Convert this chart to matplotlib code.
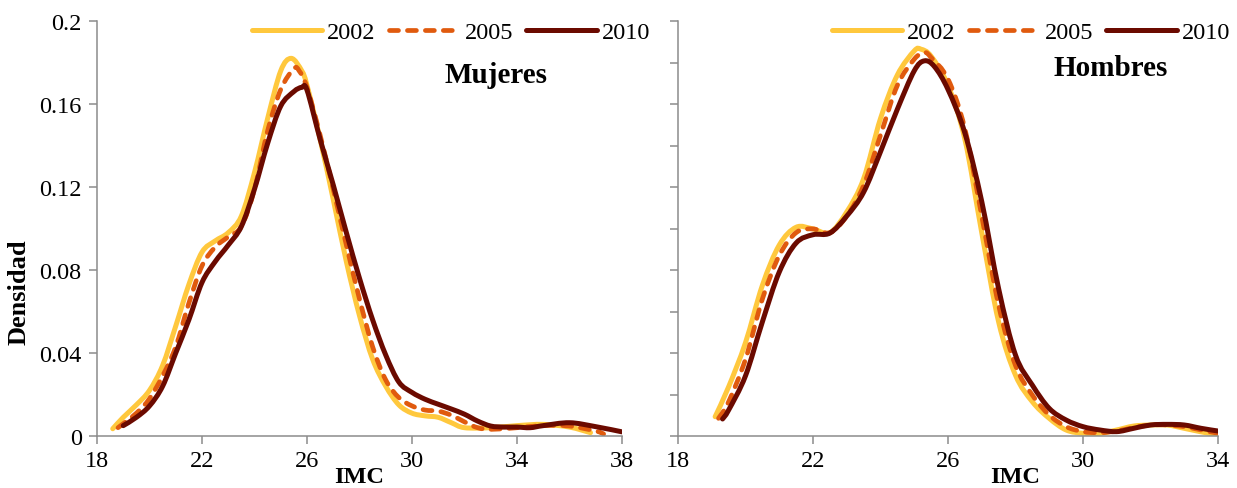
import matplotlib
matplotlib.use("Agg")
import matplotlib.pyplot as plt
from matplotlib.path import Path
from matplotlib.patches import PathPatch
from matplotlib.lines import Line2D

plt.rcParams['font.family'] = ['Liberation Serif', 'DejaVu Serif']

# Densidad del IMC por año - Mujeres
imc_m_2002 = [18.6, 19.0, 19.5, 20.0, 20.5, 21.0, 21.5, 22.0, 22.5, 23.0, 23.5, 24.0, 24.5, 25.0, 25.4,
              25.8, 26.0, 26.5, 27.0, 27.5, 28.0, 28.5, 29.0, 29.5, 30.0, 30.5, 31.0, 31.5, 32.0, 33.0,
              34.0, 35.0, 36.0, 36.8]
dens_m_2002 = [0.0035, 0.009, 0.015, 0.022, 0.034, 0.053, 0.073, 0.0886, 0.094, 0.098, 0.106, 0.127,
               0.153, 0.176, 0.182, 0.176, 0.169, 0.143, 0.114, 0.084, 0.058, 0.037, 0.024, 0.015,
               0.011, 0.0097, 0.009, 0.0064, 0.004, 0.004, 0.005, 0.0056, 0.0043, 0.0016]

imc_m_2005 = [18.8, 19.5, 20.0, 20.5, 21.0, 21.5, 22.0, 22.5, 23.0, 23.5, 24.0, 24.5, 25.0, 25.5, 25.7,
              26.0, 26.5, 27.0, 27.5, 28.0, 28.5, 29.0, 29.5, 30.0, 30.5, 31.0, 31.5, 32.0, 32.5, 33.0,
              34.0, 35.0, 36.0, 37.0, 37.3]
dens_m_2005 = [0.004, 0.011, 0.018, 0.029, 0.043, 0.064, 0.082, 0.091, 0.096, 0.101, 0.119, 0.147,
               0.167, 0.177, 0.176, 0.168, 0.145, 0.119, 0.092, 0.066, 0.043, 0.027, 0.0185, 0.0145,
               0.0125, 0.012, 0.01, 0.0068, 0.004, 0.0032, 0.004, 0.005, 0.0048, 0.0024, 0.001]

imc_m_2010 = [19.0, 19.5, 20.0, 20.5, 21.0, 21.5, 22.0, 22.5, 23.0, 23.5, 24.0, 24.5, 25.0, 25.5, 25.8,
              26.0, 26.5, 27.0, 27.5, 28.0, 28.5, 29.0, 29.5, 30.0, 30.5, 31.0, 31.5, 32.0, 32.5, 33.0,
              33.5, 34.0, 34.5, 35.0, 36.0, 37.0, 38.0]
dens_m_2010 = [0.005, 0.009, 0.0145, 0.024, 0.040, 0.056, 0.074, 0.084, 0.092, 0.101, 0.119, 0.141,
               0.159, 0.166, 0.168, 0.1667, 0.143, 0.121, 0.098, 0.076, 0.056, 0.039, 0.026, 0.021,
               0.0177, 0.0153, 0.013, 0.0105, 0.0072, 0.0048, 0.0043, 0.0043, 0.004, 0.005, 0.0064,
               0.0045, 0.002]

# Densidad del IMC por año - Hombres
imc_h_2002 = [19.1, 19.5, 20.0, 20.5, 21.0, 21.5, 22.0, 22.5, 23.0, 23.5, 24.0, 24.5, 25.0, 25.2, 25.5,
              26.0, 26.5, 27.0, 27.5, 28.0, 28.5, 29.0, 29.5, 30.0, 30.5, 31.0, 31.5, 32.0, 32.5, 33.0,
              33.5, 34.0]
dens_h_2002 = [0.0093, 0.0237, 0.045, 0.0726, 0.092, 0.1006, 0.0998, 0.098, 0.108, 0.124, 0.153, 0.174,
               0.1856, 0.1864, 0.183, 0.169, 0.143, 0.098, 0.055, 0.0293, 0.0165, 0.0085, 0.0029,
               0.0013, 0.0013, 0.0029, 0.0048, 0.0053, 0.0053, 0.0037, 0.002, 0.0005]

imc_h_2005 = [19.2, 19.5, 20.0, 20.5, 21.0, 21.5, 22.0, 22.5, 23.0, 23.5, 24.0, 24.5, 25.0, 25.3, 25.5,
              26.0, 26.5, 27.0, 27.5, 28.0, 28.5, 29.0, 29.5, 30.0, 30.5, 31.0, 31.5, 32.0, 32.5, 33.0,
              33.5, 34.0]
dens_h_2005 = [0.0085, 0.0165, 0.037, 0.066, 0.087, 0.098, 0.0998, 0.098, 0.106, 0.1207, 0.145, 0.169,
               0.1816, 0.1848, 0.1824, 0.172, 0.148, 0.106, 0.063, 0.034, 0.0197, 0.0101, 0.0045,
               0.0021, 0.0016, 0.0024, 0.004, 0.0053, 0.0053, 0.0045, 0.0029, 0.0013]

imc_h_2010 = [19.32, 19.5, 20.0, 20.5, 21.0, 21.5, 22.0, 22.5, 23.0, 23.5, 24.0, 24.5, 25.0, 25.3, 25.6,
              26.0, 26.5, 27.0, 27.5, 28.0, 28.5, 29.0, 29.5, 30.0, 30.5, 31.0, 31.5, 32.0, 32.5, 33.0,
              33.5, 34.0]
dens_h_2010 = [0.0082, 0.0125, 0.029, 0.055, 0.079, 0.093, 0.097, 0.0978, 0.106, 0.1175, 0.137, 0.1575,
               0.176, 0.1808, 0.178, 0.167, 0.146, 0.113, 0.071, 0.039, 0.0245, 0.0133, 0.0077,
               0.0045, 0.0029, 0.0021, 0.0037, 0.0053, 0.0056, 0.0053, 0.0037, 0.0024]

years = ['2002', '2005', '2010']
colors = ['#FFC83D', '#E05A0E', '#6B0A00']
styles = ['-', (0, (1.9, 1.9)), '-']
widths = [3.6, 3.4, 3.6]

y_ticks_m = [0, 0.04, 0.08, 0.12, 0.16, 0.2]
y_labels_m = ['0', '0.04', '0.08', '0.12', '0.16', '0.2']
x_ticks_m = [18, 22, 26, 30, 34, 38]
x_ticks_h = [18, 22, 26, 30, 34]
y_ticks_h = [0, 0.02, 0.04, 0.06, 0.08, 0.10, 0.12, 0.14, 0.16, 0.18, 0.2]


def smooth_path(x, y):
    # línea suavizada tipo Excel: segmentos Bezier cúbicos que pasan por cada punto
    n = len(x)
    verts = [(x[0], y[0])]
    codes = [Path.MOVETO]
    for i in range(n - 1):
        x0, y0 = (x[i - 1], y[i - 1]) if i > 0 else (x[i], y[i])
        x3, y3 = (x[i + 2], y[i + 2]) if i + 2 < n else (x[i + 1], y[i + 1])
        c1 = (x[i] + (x[i + 1] - x0) / 6, y[i] + (y[i + 1] - y0) / 6)
        c2 = (x[i + 1] - (x3 - x[i]) / 6, y[i + 1] - (y3 - y[i]) / 6)
        verts += [c1, c2, (x[i + 1], y[i + 1])]
        codes += [Path.CURVE4] * 3
    return Path(verts, codes)


fig = plt.figure(figsize=(12.37, 4.89), dpi=100)
ax1 = fig.add_axes([97 / 1237, 52 / 489, 525 / 1237, 415 / 489])
ax2 = fig.add_axes([678 / 1237, 52 / 489, 540 / 1237, 415 / 489])

panels = [
    (ax1, [(imc_m_2002, dens_m_2002), (imc_m_2005, dens_m_2005), (imc_m_2010, dens_m_2010)], 650),
    (ax2, [(imc_h_2002, dens_h_2002), (imc_h_2005, dens_h_2005), (imc_h_2010, dens_h_2010)], 1230),
]

handles = [Line2D([], [], color=c, linestyle=ls, linewidth=w, solid_capstyle='round',
                  dash_capstyle='round') for c, ls, w in zip(colors, styles, widths)]

for ax, series, leg_right in panels:
    for (x, y), c, ls, w in zip(series, colors, styles, widths):
        patch = PathPatch(smooth_path(x, y), fill=False, edgecolor=c, linestyle=ls,
                          linewidth=w, capstyle='round', joinstyle='round')
        ax.add_patch(patch)
    ax.set_ylim(0, 0.2)
    for s in ['top', 'right']:
        ax.spines[s].set_visible(False)
    for s in ['left', 'bottom']:
        ax.spines[s].set_color('#8c8c8c')
        ax.spines[s].set_linewidth(1.1)
    ax.tick_params(axis='both', colors='#8c8c8c', labelcolor='black', labelsize=17.5,
                   length=6, width=1.1)
    ax.tick_params(axis='y', pad=5)
    ax.tick_params(axis='x', pad=4)
    ax.legend(handles, years, loc='center right',
              bbox_to_anchor=(leg_right / 1237, (489 - 33) / 489),
              bbox_transform=fig.transFigure, ncol=3, frameon=False,
              fontsize=17.5, handlelength=2.9, handletextpad=0.2, columnspacing=0.55,
              borderaxespad=0, borderpad=0)
    ax.set_xlabel('IMC', fontsize=17.5, fontweight='bold', va='top')

ax1.set_xlim(18, 38)
ax1.set_xticks(x_ticks_m)
ax1.set_yticks(y_ticks_m)
ax1.set_yticklabels(y_labels_m)
ax1.set_ylabel('Densidad', fontsize=19, fontweight='bold', va='center')
ax1.yaxis.set_label_coords(-0.148, 0.35)
ax1.xaxis.set_label_coords(0.5, -0.072)
ax1.text(0.76, 0.872, 'Mujeres', transform=ax1.transAxes, fontsize=21,
         fontweight='bold', ha='center', va='center')

ax2.set_xlim(18, 34)
ax2.set_xticks(x_ticks_h)
ax2.set_yticks(y_ticks_h)
ax2.set_yticklabels([])
ax2.xaxis.set_label_coords(0.624, -0.072)
ax2.text(0.802, 0.889, 'Hombres', transform=ax2.transAxes, fontsize=21,
         fontweight='bold', ha='center', va='center')

fig.savefig('out.png', dpi=100)
